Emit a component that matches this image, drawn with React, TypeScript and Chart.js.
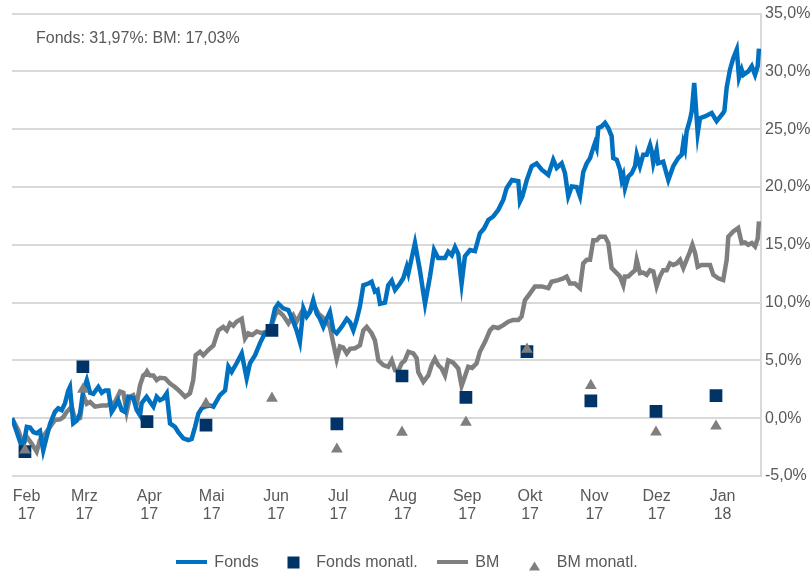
import React, { useEffect, useRef } from 'react';
import { Chart, registerables } from 'chart.js';

Chart.register(...registerables);

const FONT = '"Liberation Sans", Arial, sans-serif';
const TEXT = '#595959';
const BLUE = '#0070c0';
const NAVY = '#003366';
const GRAY = '#7f7f7f';
const GRID = '#d9d9d9';

// x = days since start of the period (Feb 2017 … Jan 2018)
const tickX = [7.1, 35.2, 66.8, 97.2, 128.5, 158.8, 190.1, 221.5, 252.1, 283.4, 313.7, 345.8];
const tickMonths = ['Feb', 'Mrz', 'Apr', 'Mai', 'Jun', 'Jul', 'Aug', 'Sep', 'Okt', 'Nov', 'Dez', 'Jan'];
const tickYears = ['17', '17', '17', '17', '17', '17', '17', '17', '17', '17', '17', '18'];

const yTicks = [-5, 0, 5, 10, 15, 20, 25, 30, 35];

const fondsX = [0, 3.1, 4.6, 5.6, 7.2, 8.8, 10.4, 12.0, 13.6, 15.2, 16.9, 18.5, 20.9, 22.5, 24.2, 25.8, 27.4, 28.2, 29.8, 31.5, 33.1, 34.7, 36.4, 38.0, 39.6, 42.0, 43.7, 45.3, 46.9, 48.5, 50.1, 51.7, 53.4, 55.0, 56.6, 59.0, 60.7, 62.3, 63.1, 65.5, 67.2, 68.8, 70.4, 72.0, 73.6, 75.3, 76.9, 79.3, 80.9, 83.4, 85.8, 87.4, 89.1, 90.7, 92.3, 93.9, 96.4, 98.0, 101.2, 103.7, 105.3, 106.9, 109.3, 111.8, 114.2, 115.8, 118.3, 120.7, 123.1, 125.6, 128.0, 129.6, 132.0, 134.5, 136.9, 138.5, 140.1, 141.8, 143.4, 145.0, 146.6, 148.3, 149.9, 151.5, 153.1, 154.7, 156.4, 158.0, 160.4, 162.9, 164.5, 166.1, 167.7, 169.3, 171.0, 173.4, 175.0, 176.6, 177.9, 179.1, 181.5, 183.1, 184.8, 186.4, 188.8, 190.4, 192.1, 192.9, 196.1, 198.5, 201.0, 203.4, 205.4, 207.4, 210.7, 212.3, 214.0, 215.6, 217.2, 218.8, 220.4, 222.9, 225.3, 227.7, 229.7, 231.8, 234.2, 236.6, 239.1, 240.7, 243.3, 246.4, 247.2, 248.4, 250.5, 252.9, 255.3, 257.8, 261.0, 263.4, 265.1, 267.5, 269.1, 270.7, 272.4, 274.8, 276.4, 278.0, 279.7, 281.3, 282.9, 283.7, 284.5, 285.3, 287.0, 288.6, 290.2, 291.8, 292.6, 294.3, 295.9, 296.7, 297.5, 298.3, 299.9, 301.6, 303.2, 304.0, 305.6, 307.2, 308.9, 310.5, 311.3, 312.1, 313.7, 314.5, 316.9, 319.4, 321.8, 324.2, 325.9, 326.7, 327.5, 328.3, 329.9, 330.8, 332.0, 333.7, 334.8, 337.2, 340.5, 342.9, 346.1, 346.7, 347.8, 349.4, 351.0, 352.7, 353.8, 355.1, 355.9, 358.3, 360.0, 361.6, 362.9, 363.5];
const fondsY = [0, -1.6, -2.4, -2.3, -0.75, -0.8, -1.2, -1.3, -1.1, -2.8, -1.6, -0.5, 0.55, 0.85, 0.7, 1.3, 2.4, 2.7, -0.45, -0.2, 0.4, 2.4, 3.3, 2.2, 2.1, 2.7, 2.2, 2.4, 2.4, 0.55, 1.0, 1.55, 0.7, 0.55, 1.85, 1.75, 0.7, 0.25, 1.3, 1.85, 1.4, 1.0, 1.85, 1.55, 1.7, 2.15, -0.45, -0.75, -1.2, -1.75, -1.9, -1.8, -0.75, 0.4, 0.85, 1.0, 1.1, 1.0, 2.0, 2.4, 4.45, 4.0, 4.75, 5.6, 3.45, 4.75, 5.45, 6.5, 7.35, 7.6, 9.5, 9.9, 9.5, 9.35, 8.35, 7.6, 6.6, 9.5, 8.8, 9.2, 10.2, 9.05, 8.6, 7.9, 8.6, 9.2, 7.6, 7.35, 7.9, 8.6, 8.3, 7.6, 8.5, 9.65, 11.5, 11.65, 11.8, 10.95, 11.1, 9.9, 10.0, 11.5, 11.9, 11.1, 11.65, 12.1, 13.1, 12.55, 15.15, 12.8, 9.9, 12.25, 14.55, 13.85, 13.85, 14.4, 14.1, 14.8, 14.2, 11.65, 14.0, 14.55, 14.45, 16.0, 16.4, 17.15, 17.45, 18.0, 18.9, 19.9, 20.6, 20.5, 18.75, 19.2, 20.6, 21.8, 22.05, 21.5, 21.05, 22.35, 21.65, 22.05, 21.2, 19.2, 20.05, 20.0, 19.2, 21.3, 22.05, 22.5, 23.4, 23.8, 23.4, 25.1, 25.25, 25.55, 25.1, 24.4, 22.5, 22.35, 21.5, 20.6, 21.0, 19.9, 20.9, 21.2, 21.8, 22.8, 21.8, 22.8, 22.8, 23.65, 23.1, 22.05, 23.2, 22.05, 22.2, 20.6, 21.8, 22.5, 22.8, 23.8, 23.3, 24.8, 25.8, 26.55, 29.0, 24.65, 25.95, 26.1, 26.4, 25.7, 26.4, 26.6, 28.6, 30.15, 31.15, 31.9, 29.45, 30.15, 29.7, 30.0, 30.45, 29.7, 30.45, 31.97];

const bmX = [0, 1.5, 3.1, 5.5, 7.2, 9.6, 12.0, 13.6, 16.1, 18.5, 20.9, 23.4, 25.0, 26.6, 29.1, 30.7, 33.1, 34.7, 36.4, 38.0, 40.4, 43.7, 46.1, 47.7, 50.1, 52.6, 54.2, 55.8, 57.4, 59.0, 60.7, 62.3, 63.9, 65.5, 67.2, 68.8, 70.4, 72.0, 74.5, 76.9, 79.3, 81.8, 84.2, 86.6, 88.2, 89.4, 91.5, 93.1, 95.5, 98.0, 100.4, 102.8, 104.5, 106.1, 107.7, 109.3, 111.8, 113.4, 115.0, 117.0, 119.1, 121.5, 123.9, 125.6, 128.0, 129.6, 131.9, 134.5, 136.9, 138.5, 141.0, 143.4, 145.0, 146.6, 149.1, 150.7, 153.1, 154.7, 156.4, 158.0, 159.6, 161.2, 162.9, 164.5, 166.9, 169.3, 171.0, 172.6, 175.0, 176.6, 178.3, 180.7, 183.1, 184.8, 186.4, 188.0, 189.6, 191.2, 192.9, 195.3, 196.9, 197.7, 200.2, 202.6, 204.2, 205.8, 207.4, 209.1, 210.7, 212.3, 214.7, 217.2, 218.8, 220.4, 222.0, 223.9, 226.1, 227.7, 230.2, 232.6, 234.2, 236.6, 239.1, 241.5, 243.9, 246.4, 248.0, 249.6, 252.1, 254.5, 257.8, 261.0, 262.6, 265.8, 268.3, 269.9, 271.5, 274.0, 276.4, 278.0, 279.7, 281.3, 282.9, 284.5, 286.1, 288.6, 290.2, 291.8, 294.3, 295.9, 297.5, 298.3, 299.9, 301.6, 303.2, 304.0, 305.6, 307.2, 308.9, 310.5, 312.1, 313.7, 315.3, 316.9, 318.6, 320.2, 321.8, 323.5, 325.1, 326.7, 328.3, 329.9, 331.1, 332.4, 333.7, 335.6, 337.7, 339.7, 341.3, 343.7, 346.1, 347.8, 348.6, 351.0, 353.4, 355.1, 356.7, 358.3, 360.0, 361.6, 362.9, 363.5];
const bmY = [0, -0.5, -1.05, -2.3, -1.6, -2.2, -2.9, -1.9, -1.35, -0.75, -0.15, -0.1, 0.1, 0.55, 1.0, -0.15, 0.0, 2.0, 1.25, 1.4, 1.0, 1.1, 1.1, 1.25, 1.4, 2.3, 2.2, 0.55, 1.85, 2.0, 1.25, 2.85, 3.7, 3.9, 3.7, 3.7, 3.3, 3.5, 3.45, 3.0, 2.7, 2.3, 1.85, 2.15, 3.3, 5.45, 5.75, 5.45, 5.9, 6.3, 7.6, 7.9, 7.6, 8.2, 8.0, 8.35, 8.6, 6.9, 7.35, 7.2, 7.5, 7.35, 7.5, 7.6, 8.9, 9.3, 8.9, 8.2, 8.9, 8.35, 9.2, 8.8, 9.2, 9.9, 9.05, 8.8, 8.35, 7.9, 6.45, 5.1, 6.2, 6.1, 5.6, 6.0, 6.05, 6.3, 7.6, 7.9, 7.35, 6.75, 5.0, 4.6, 4.45, 5.0, 4.15, 4.1, 4.75, 5.0, 5.75, 5.6, 5.2, 4.0, 3.15, 3.7, 4.6, 5.15, 4.6, 4.3, 3.7, 5.0, 4.8, 4.3, 2.8, 3.6, 4.45, 4.35, 4.75, 5.75, 6.6, 7.6, 7.9, 7.8, 8.05, 8.35, 8.5, 8.5, 8.8, 10.2, 10.8, 11.4, 11.4, 11.25, 11.8, 11.95, 12.1, 12.25, 11.65, 11.65, 11.25, 13.4, 13.7, 13.7, 15.4, 15.4, 15.7, 15.7, 15.15, 13.0, 12.55, 12.25, 11.5, 12.25, 12.25, 12.55, 12.8, 13.7, 12.55, 12.6, 12.4, 12.8, 12.7, 11.4, 12.25, 12.8, 12.8, 13.4, 13.25, 13.4, 13.7, 13.0, 13.7, 14.4, 15.0, 14.3, 13.1, 13.25, 13.25, 13.25, 12.4, 12.1, 11.95, 13.7, 15.7, 16.15, 16.45, 15.15, 15.2, 15.0, 15.15, 14.85, 15.55, 17.03];

const monthX = [6.3, 34.5, 65.7, 94.4, 126.5, 158.1, 189.8, 220.9, 250.6, 281.7, 313.4, 342.6];
const fondsMonthly = [-2.9, 4.45, -0.3, -0.6, 7.6, -0.5, 3.65, 1.8, 5.75, 1.5, 0.6, 1.95];
const bmMonthly = [-2.75, 2.5, 3.85, 1.27, 1.72, -2.68, -1.23, -0.36, 5.95, 2.82, -1.21, -0.69];

const pts = (xs: number[], ys: number[]) => xs.map((x, i) => ({ x, y: ys[i] }));

const legendItems = [
  { label: 'Fonds', kind: 'line', color: BLUE },
  { label: 'Fonds monatl.', kind: 'rect', color: NAVY },
  { label: 'BM', kind: 'line', color: GRAY },
  { label: 'BM monatl.', kind: 'triangle', color: GRAY },
];

function Symbol({ kind, color }: { kind: string; color: string }) {
  return (
    <svg width={31} height={20} style={{ display: 'block' }}>
      {kind === 'line' && <rect x={0} y={8} width={31} height={4} fill={color} />}
      {kind === 'rect' && <rect x={9.5} y={4.5} width={12} height={12} fill={color} />}
      {kind === 'triangle' && <polygon points="10,18.5 21,18.5 15.5,9.5" fill={color} />}
    </svg>
  );
}

export default function App() {
  const ref = useRef<HTMLCanvasElement>(null);

  useEffect(() => {
    const chart = new Chart(ref.current as HTMLCanvasElement, {
      type: 'line',
      data: {
        datasets: [
          {
            label: 'Fonds',
            data: pts(fondsX, fondsY),
            borderColor: BLUE,
            backgroundColor: BLUE,
            borderWidth: 4.5,
            pointRadius: 0,
            tension: 0,
            fill: false,
            order: 2,
          },
          {
            label: 'Fonds monatl.',
            data: pts(monthX, fondsMonthly),
            showLine: false,
            pointStyle: 'rect',
            pointRadius: 9,
            pointBackgroundColor: NAVY,
            pointBorderWidth: 0,
            borderWidth: 0,
            order: 1,
          },
          {
            label: 'BM',
            data: pts(bmX, bmY),
            borderColor: GRAY,
            backgroundColor: GRAY,
            borderWidth: 4.5,
            pointRadius: 0,
            tension: 0,
            fill: false,
            order: 3,
          },
          {
            label: 'BM monatl.',
            data: pts(monthX, bmMonthly),
            showLine: false,
            pointStyle: 'triangle',
            pointRadius: 6.8,
            pointBackgroundColor: GRAY,
            pointBorderWidth: 0,
            borderWidth: 0,
            order: 0,
          },
        ] as any,
      },
      options: {
        animation: false,
        responsive: false,
        maintainAspectRatio: false,
        layout: { padding: { left: 12, top: 13, right: 0, bottom: 0 } },
        plugins: {
          legend: { display: false },
          tooltip: { enabled: false },
          title: { display: false },
        },
        scales: {
          x: {
            type: 'linear',
            min: 0,
            max: 364.5,
            grid: { display: false },
            border: { display: false },
            afterBuildTicks: (s: any) => {
              s.ticks = tickX.map((v) => ({ value: v }));
            },
            afterFit: (s: any) => {
              s.height = 95;
            },
            ticks: {
              autoSkip: false,
              maxRotation: 0,
              minRotation: 0,
              padding: 3,
              color: TEXT,
              font: { family: FONT, size: 16, lineHeight: 1.15 },
              callback: (_v: any, i: number) => [tickMonths[i], tickYears[i]],
            },
          },
          y: {
            type: 'linear',
            position: 'right',
            min: -5,
            max: 35,
            afterBuildTicks: (s: any) => {
              s.ticks = yTicks.map((v) => ({ value: v }));
            },
            afterFit: (s: any) => {
              s.width = 49;
            },
            grid: { color: GRID, lineWidth: 2, drawTicks: false },
            border: { display: true, color: GRID, width: 2 },
            ticks: {
              padding: 4,
              color: TEXT,
              font: { family: FONT, size: 16 },
              callback: (v: any) => Number(v).toFixed(1).replace('.', ',') + '%',
            },
          },
        },
      } as any,
    });
    return () => chart.destroy();
  }, []);

  return (
    <div style={{ position: 'fixed', left: 0, top: 0, width: 810, height: 571, background: '#fff' }}>
      <canvas ref={ref} width={810} height={571} style={{ position: 'absolute', left: 0, top: 0 }} />
      <div
        style={{
          position: 'absolute',
          left: 36,
          top: 29,
          font: `16px ${FONT}`,
          lineHeight: '18px',
          color: TEXT,
          whiteSpace: 'nowrap',
        }}
      >
        Fonds: 31,97%: BM: 17,03%
      </div>
      <div
        style={{
          position: 'absolute',
          left: 2,
          top: 552,
          width: 810,
          height: 20,
          display: 'flex',
          justifyContent: 'center',
          alignItems: 'center',
          font: `16px ${FONT}`,
          lineHeight: '20px',
          color: TEXT,
        }}
      >
        {legendItems.map((it, i) => (
          <span
            key={it.label}
            style={{ display: 'flex', alignItems: 'center', marginRight: i < legendItems.length - 1 ? 19.5 : 0 }}
          >
            <Symbol kind={it.kind} color={it.color} />
            <span style={{ marginLeft: 7, whiteSpace: 'nowrap' }}>{it.label}</span>
          </span>
        ))}
      </div>
    </div>
  );
}
